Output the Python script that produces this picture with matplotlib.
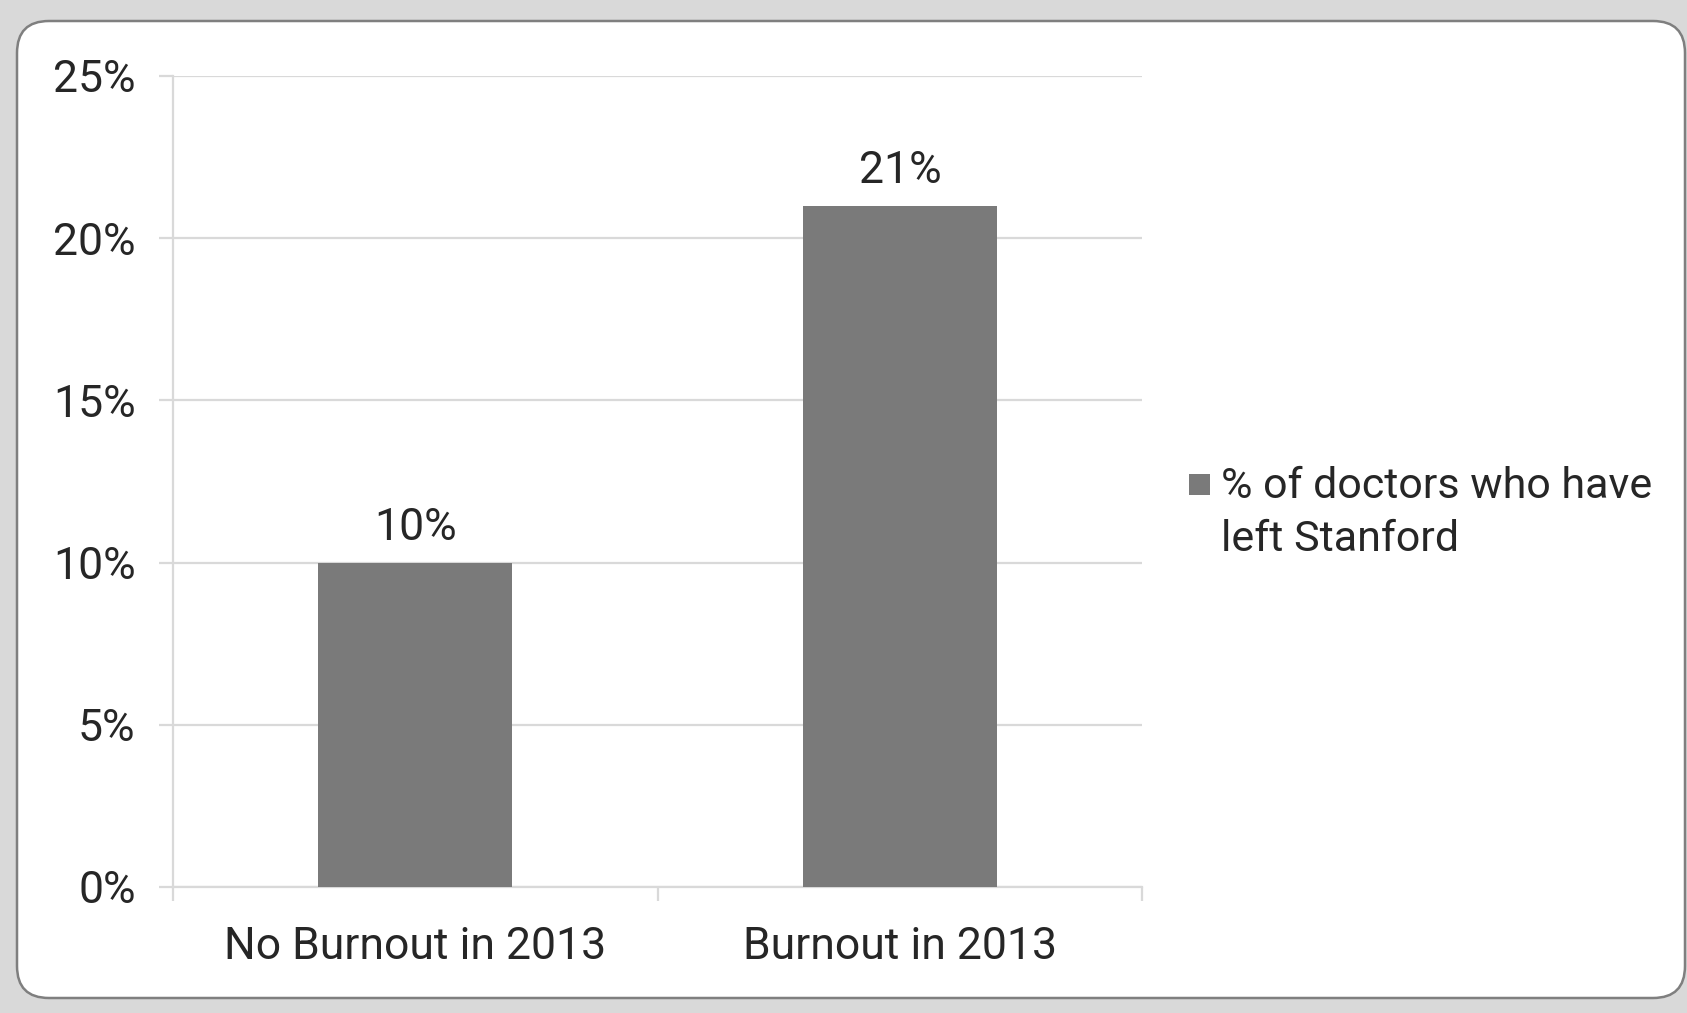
import matplotlib
matplotlib.use("Agg")
import matplotlib.pyplot as plt
from matplotlib.patches import FancyBboxPatch, Rectangle

# data
categories = ["No Burnout in 2013", "Burnout in 2013"]
left_pct = [10, 21]
series_name = "% of doctors who have\nleft Stanford"
yticks = [0, 5, 10, 15, 20, 25]

barColor = "#7a7a7a"
gridColor = "#d9d9d9"
textColor = "#262626"
fs = 32

plt.rcParams['font.family'] = ['Roboto', 'DejaVu Sans']

fig = plt.figure(figsize=(16.87, 10.13), dpi=100, facecolor="#d9d9d9")

# rounded white chart frame, behind everything
frame = FancyBboxPatch((0.17, 0.15), 16.68, 9.77,
                       boxstyle="round,pad=0,rounding_size=0.32",
                       transform=fig.dpi_scale_trans,
                       facecolor="white", edgecolor="#7f7f7f", linewidth=1.8,
                       zorder=-10)
fig.patches.append(frame)

ax = fig.add_axes([0.1026, 0.1244, 0.5744, 0.8006])
ax.set_facecolor("none")
ax.set_zorder(1)

x = list(range(len(categories)))
bars = ax.bar(x, left_pct, width=0.4, color=barColor, zorder=3)
ax.bar_label(bars, labels=["%d%%" % v for v in left_pct], padding=10,
             fontsize=fs, color=textColor)

ax.set_xlim(-0.5, 1.5)
ax.set_ylim(0, 25)
ax.set_yticks(yticks)
ax.set_yticklabels(["%d%%" % v for v in yticks])
ax.yaxis.grid(True, color=gridColor, linewidth=1.6, zorder=0)
ax.set_axisbelow(True)

ax.set_xticks(x)
ax.set_xticklabels(categories)
ax.set_xticks([-0.5, 0.5, 1.5], minor=True)
ax.tick_params(axis="x", which="major", length=0, pad=28, labelsize=fs, labelcolor=textColor)
ax.tick_params(axis="x", which="minor", length=10, width=1.6, color=gridColor)
ax.tick_params(axis="y", length=10, width=1.6, color=gridColor, pad=17,
               labelsize=fs, labelcolor=textColor)

for s in ["top", "right"]:
    ax.spines[s].set_visible(False)
for s in ["left", "bottom"]:
    ax.spines[s].set_color(gridColor)
    ax.spines[s].set_linewidth(1.6)

# legend: square key next to the first line of the label
fig.patches.append(Rectangle((1189 / 1687, 1 - 495 / 1013), 21 / 1687, 21 / 1013,
                             transform=fig.transFigure, facecolor=barColor,
                             edgecolor="none", zorder=2))
fig.text(1221 / 1687, 1 - 466 / 1013, series_name, fontsize=31, color=textColor,
         ha="left", va="top", linespacing=1.36)

fig.savefig("out.png", dpi=100, facecolor=fig.get_facecolor())
